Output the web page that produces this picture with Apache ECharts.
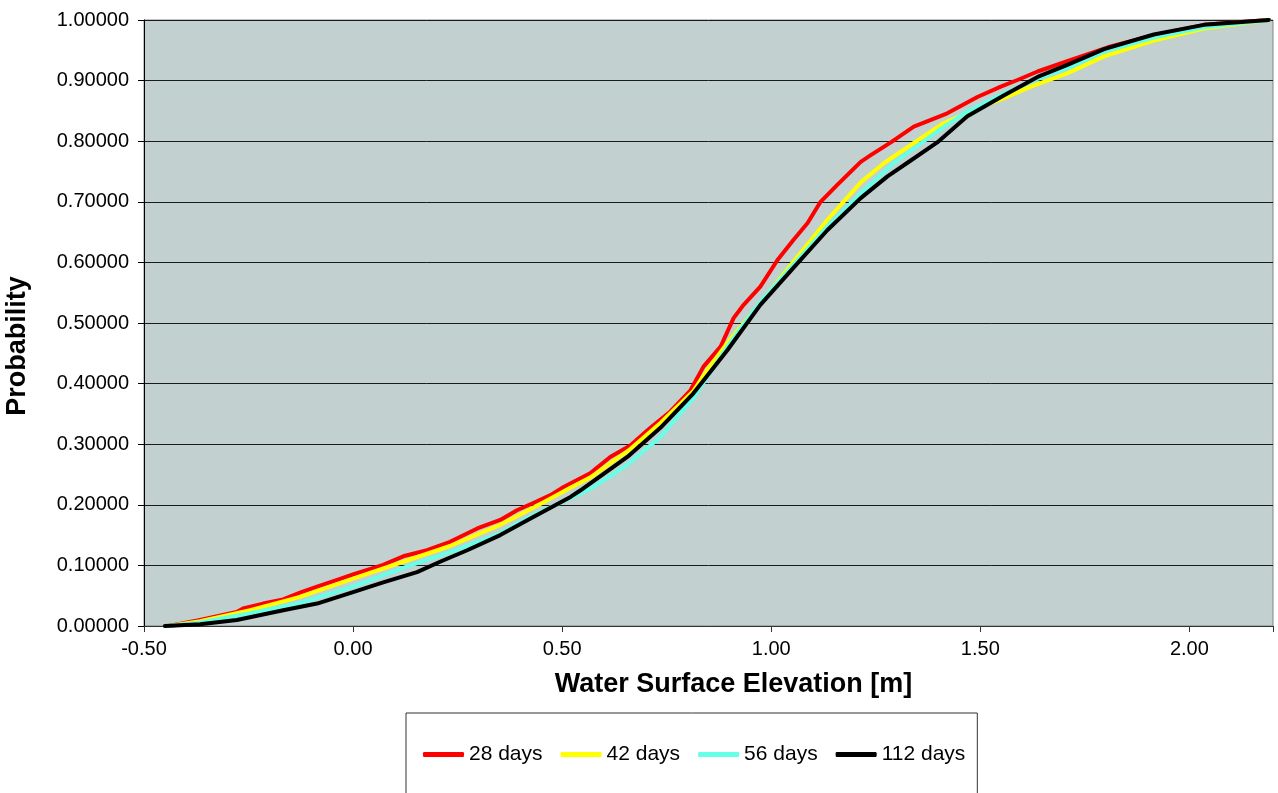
<!DOCTYPE html>
<html>
<head>
<meta charset="utf-8">
<script src="https://cdn.jsdelivr.net/npm/echarts@6/dist/echarts.min.js"></script>
<style>
  html, body { margin: 0; padding: 0; background: #fff; }
  #chart { width: 1278px; height: 793px; }
</style>
</head>
<body>
<div id="chart"></div>
<script>
// cumulative probability vs water surface elevation, [elevation m, probability]
const days28 = [
  [-0.440, 0.000], [-0.366, 0.010], [-0.278, 0.023], [-0.263, 0.029], [-0.215, 0.037],
  [-0.167, 0.044], [-0.127, 0.055], [-0.086, 0.065], [-0.038, 0.076], [0.000, 0.085],
  [0.072, 0.101], [0.120, 0.115], [0.177, 0.125], [0.232, 0.139], [0.297, 0.161],
  [0.352, 0.175], [0.392, 0.191], [0.431, 0.203], [0.472, 0.216], [0.500, 0.228],
  [0.567, 0.252], [0.615, 0.279], [0.663, 0.298], [0.711, 0.327], [0.759, 0.354],
  [0.807, 0.389], [0.838, 0.428], [0.879, 0.461], [0.910, 0.508], [0.934, 0.530],
  [0.974, 0.560], [1.015, 0.604], [1.053, 0.637], [1.087, 0.665], [1.118, 0.700],
  [1.158, 0.728], [1.214, 0.766], [1.238, 0.777], [1.286, 0.798], [1.341, 0.824],
  [1.421, 0.846], [1.493, 0.873], [1.549, 0.890], [1.589, 0.901], [1.637, 0.915],
  [1.708, 0.932], [1.805, 0.955], [1.915, 0.975], [2.035, 0.992], [2.190, 1.000]
]
const days42 = [
  [-0.440, 0.000], [-0.366, 0.008], [-0.246, 0.026], [-0.127, 0.048], [0.000, 0.078],
  [0.120, 0.106], [0.232, 0.132], [0.352, 0.167], [0.431, 0.195], [0.520, 0.228],
  [0.567, 0.245], [0.663, 0.292], [0.735, 0.335], [0.814, 0.388], [0.850, 0.425],
  [0.895, 0.467], [0.974, 0.533], [1.053, 0.601], [1.134, 0.670], [1.214, 0.732],
  [1.270, 0.764], [1.341, 0.797], [1.413, 0.830], [1.493, 0.854], [1.557, 0.871],
  [1.621, 0.890], [1.708, 0.912], [1.796, 0.940], [1.915, 0.966], [2.035, 0.986],
  [2.190, 1.000]
]
const days56 = [
  [-0.440, 0.000], [-0.366, 0.006], [-0.246, 0.021], [-0.127, 0.038], [0.000, 0.065],
  [0.120, 0.096], [0.232, 0.122], [0.352, 0.153], [0.431, 0.183], [0.520, 0.211],
  [0.567, 0.226], [0.656, 0.266], [0.735, 0.312], [0.814, 0.376], [0.895, 0.461],
  [0.974, 0.535], [1.053, 0.596], [1.134, 0.659], [1.214, 0.714], [1.293, 0.764],
  [1.397, 0.816], [1.469, 0.849], [1.557, 0.879], [1.637, 0.903], [1.708, 0.920],
  [1.796, 0.948], [1.915, 0.971], [2.035, 0.988], [2.190, 1.000]
]
const days112 = [
  [-0.450, 0.000], [-0.366, 0.003], [-0.278, 0.010], [-0.167, 0.026], [-0.086, 0.037],
  [0.000, 0.056], [0.072, 0.072], [0.153, 0.089], [0.208, 0.106], [0.273, 0.125],
  [0.352, 0.150], [0.431, 0.180], [0.520, 0.213], [0.544, 0.224], [0.656, 0.279],
  [0.735, 0.327], [0.814, 0.384], [0.895, 0.455], [0.974, 0.530], [1.053, 0.591],
  [1.134, 0.653], [1.214, 0.706], [1.278, 0.742], [1.325, 0.764], [1.397, 0.798],
  [1.469, 0.841], [1.557, 0.876], [1.637, 0.906], [1.708, 0.926], [1.796, 0.952],
  [1.915, 0.976], [2.035, 0.992], [2.190, 1.000]
]

const seriesNames = ['28 days', '42 days', '56 days', '112 days']
const seriesData = [days28, days42, days56, days112]
const seriesColors = ['#ff0000', '#ffff00', '#66ffe8', '#000000']

const font = "'Liberation Sans', Arial, sans-serif"

const chart = echarts.init(document.getElementById('chart'))

chart.setOption({
  animation: false,
  backgroundColor: '#fff',
  textStyle: { fontFamily: font, color: '#000' },
  grid: {
    left: 144,
    right: 5,
    top: 20,
    bottom: 167,
    outerBoundsMode: 'none',
    show: true,
    backgroundColor: '#c2d0cf',
    borderColor: '#7f8786',
    borderWidth: 1
  },
  legend: {
    data: seriesNames,
    left: 406,
    top: 713,
    orient: 'horizontal',
    padding: [31, 12, 40, 17],
    itemGap: 18,
    itemWidth: 41,
    itemHeight: 5,
    icon: 'roundRect',
    borderColor: '#333',
    borderWidth: 1,
    textStyle: { fontSize: 21, color: '#000', fontFamily: font }
  },
  xAxis: {
    type: 'value',
    min: -0.5,
    max: 2.2,
    interval: 0.5,
    name: 'Water Surface Elevation [m]',
    nameLocation: 'middle',
    nameGap: 45,
    nameTextStyle: { fontSize: 27, fontWeight: 'bold', color: '#000', fontFamily: font, padding: [0, 0, 0, 50] },
    axisLine: { show: true, onZero: false, lineStyle: { color: '#333', width: 1 } },
    axisTick: { show: true, length: 6, lineStyle: { color: '#333' } },
    axisLabel: {
      fontSize: 20,
      color: '#000',
      margin: 13,
      formatter: (v) => Math.abs(v * 2 - Math.round(v * 2)) < 1e-6 ? v.toFixed(2) : ''
    },
    splitLine: { show: false }
  },
  yAxis: {
    type: 'value',
    min: 0,
    max: 1,
    interval: 0.1,
    name: 'Probability',
    nameLocation: 'middle',
    nameGap: 113,
    nameTextStyle: { fontSize: 27, fontWeight: 'bold', color: '#000', fontFamily: font, padding: [0, 46, 0, 0] },
    axisLine: { show: true, onZero: false, lineStyle: { color: '#000', width: 1 } },
    axisTick: { show: true, length: 6, lineStyle: { color: '#000' } },
    axisLabel: {
      fontSize: 20,
      color: '#000',
      margin: 15,
      formatter: (v) => v.toFixed(5)
    },
    splitLine: { show: true, lineStyle: { color: '#1a1a1a', width: 1 } }
  },
  series: seriesNames.map((name, i) => ({
    name: name,
    type: 'line',
    data: seriesData[i],
    showSymbol: false,
    symbol: 'none',
    z: 2 + i,
    lineStyle: { width: 4, color: seriesColors[i], cap: 'round', join: 'round' },
    itemStyle: { color: seriesColors[i] }
  }))
})
</script>
</body>
</html>
